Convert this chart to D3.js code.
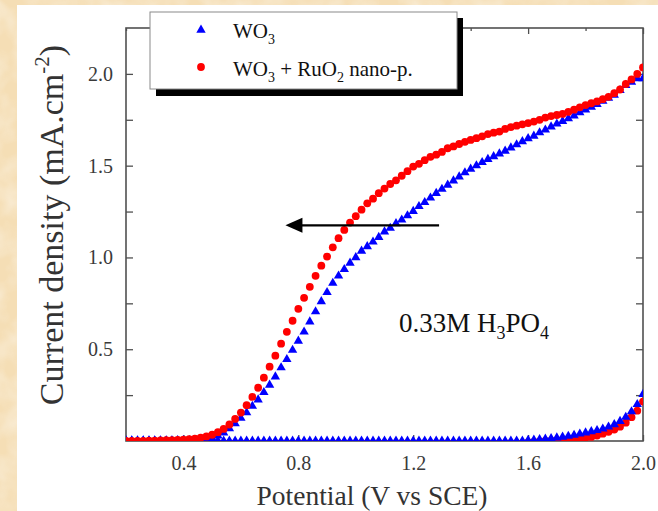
<!DOCTYPE html>
<html>
<head>
<meta charset="utf-8">
<script src="https://cdn.jsdelivr.net/npm/d3@7/dist/d3.min.js"></script>
<style>
  html, body { margin: 0; padding: 0; background: #fff; }
  svg { display: block; }
  text { font-family: "Liberation Serif", "Times New Roman", serif; }
</style>
</head>
<body>
<svg id="chart" width="658" height="511"></svg>
<script>
// Applied potential (V vs SCE), sampled every 20 mV
const potential = [
  0.20,0.22,0.24,0.26,0.28,0.30,0.32,0.34,0.36,0.38,
  0.40,0.42,0.44,0.46,0.48,0.50,0.52,0.54,0.56,0.58,
  0.60,0.62,0.64,0.66,0.68,0.70,0.72,0.74,0.76,0.78,
  0.80,0.82,0.84,0.86,0.88,0.90,0.92,0.94,0.96,0.98,
  1.00,1.02,1.04,1.06,1.08,1.10,1.12,1.14,1.16,1.18,
  1.20,1.22,1.24,1.26,1.28,1.30,1.32,1.34,1.36,1.38,
  1.40,1.42,1.44,1.46,1.48,1.50,1.52,1.54,1.56,1.58,
  1.60,1.62,1.64,1.66,1.68,1.70,1.72,1.74,1.76,1.78,
  1.80,1.82,1.84,1.86,1.88,1.90,1.92,1.94,1.96,1.98,
  2.00
];

// Photocurrent density under illumination (mA/cm2)
const wo3Light = [
  0.002,0.002,0.002,0.002,0.002,0.002,0.002,0.002,0.002,0.003,
  0.003,0.003,0.004,0.005,0.008,0.015,0.028,0.045,0.068,0.095,
  0.125,0.155,0.190,0.225,0.265,0.305,0.350,0.400,0.445,0.495,
  0.545,0.595,0.650,0.705,0.760,0.810,0.860,0.900,0.935,0.970,
  1.000,1.035,1.060,1.085,1.110,1.140,1.160,1.185,1.205,1.228,
  1.252,1.278,1.300,1.325,1.350,1.372,1.395,1.418,1.440,1.462,
  1.482,1.500,1.518,1.535,1.550,1.565,1.580,1.598,1.615,1.632,
  1.648,1.662,1.680,1.695,1.712,1.728,1.742,1.757,1.772,1.790,
  1.805,1.820,1.835,1.852,1.868,1.885,1.910,1.938,1.955,1.975,
  1.975
];
const ruo2Light = [
  0.000,0.000,0.001,0.001,0.002,0.002,0.003,0.004,0.005,0.006,
  0.008,0.010,0.013,0.018,0.025,0.034,0.048,0.066,0.090,0.120,
  0.155,0.195,0.240,0.290,0.345,0.405,0.465,0.530,0.595,0.655,
  0.720,0.780,0.840,0.900,0.955,1.005,1.055,1.105,1.150,1.190,
  1.225,1.260,1.295,1.320,1.350,1.375,1.400,1.420,1.445,1.470,
  1.495,1.510,1.530,1.548,1.560,1.575,1.595,1.605,1.618,1.630,
  1.640,1.650,1.660,1.672,1.680,1.686,1.700,1.710,1.718,1.725,
  1.732,1.740,1.750,1.762,1.770,1.776,1.782,1.793,1.805,1.818,
  1.830,1.840,1.850,1.862,1.875,1.895,1.915,1.945,1.970,2.000,
  2.035
];

// Dark current density (mA/cm2)
const wo3Dark = [
  0.001,0.001,0.001,0.001,0.001,0.001,0.001,0.001,0.001,0.001,
  0.001,0.001,0.001,0.001,0.001,0.001,0.001,0.001,0.001,0.001,
  0.001,0.001,0.001,0.001,0.001,0.001,0.001,0.001,0.001,0.001,
  0.001,0.001,0.001,0.001,0.001,0.001,0.001,0.001,0.001,0.001,
  0.001,0.001,0.001,0.001,0.001,0.001,0.001,0.001,0.001,0.001,
  0.001,0.001,0.001,0.001,0.001,0.001,0.001,0.001,0.001,0.001,
  0.001,0.001,0.001,0.001,0.001,0.001,0.001,0.001,0.001,0.001,
  0.004,0.006,0.008,0.011,0.014,0.018,0.022,0.027,0.032,0.039,
  0.045,0.052,0.058,0.066,0.077,0.090,0.108,0.130,0.160,0.200,
  0.255
];
const ruo2Dark = [
  -0.012,-0.012,-0.012,-0.012,-0.012,-0.012,-0.012,-0.012,-0.012,-0.012,
  -0.012,-0.012,-0.012,-0.012,-0.012,-0.012,-0.012,-0.012,-0.012,-0.012,
  -0.012,-0.012,-0.012,-0.012,-0.012,-0.012,-0.012,-0.012,-0.012,-0.012,
  -0.012,-0.012,-0.012,-0.012,-0.012,-0.012,-0.012,-0.012,-0.012,-0.012,
  -0.012,-0.012,-0.012,-0.012,-0.012,-0.012,-0.012,-0.012,-0.012,-0.012,
  -0.012,-0.012,-0.012,-0.012,-0.012,-0.012,-0.012,-0.012,-0.012,-0.012,
  -0.012,-0.012,-0.012,-0.012,-0.012,-0.012,-0.012,-0.012,-0.012,-0.012,
  -0.008,-0.005,-0.002,0.000,0.002,0.004,0.006,0.008,0.010,0.013,
  0.017,0.022,0.030,0.040,0.050,0.062,0.078,0.100,0.130,0.165,
  0.215
];

// Axis ticks
const xMajorTicks = [0.4, 0.8, 1.2, 1.6, 2.0];
const xMinorTicks = [0.2, 0.6, 1.0, 1.4, 1.8];
const yMajorTicks = [0.5, 1.0, 1.5, 2.0];
const yMinorTicks = [0.25, 0.75, 1.25, 1.75];

// Shift marker for the RuO2-modified electrode
const arrowFrom = { v: 1.29, j: 1.175 };
const arrowTo   = { v: 0.755, j: 1.175 };

const svg = d3.select("#chart");
const W = 658, H = 511;

// Parchment backdrop
const defs = svg.append("defs");
const paper = defs.append("filter").attr("id", "paper")
  .attr("x", 0).attr("y", 0).attr("width", "100%").attr("height", "100%");
paper.append("feTurbulence").attr("type", "fractalNoise")
  .attr("baseFrequency", "0.035").attr("numOctaves", 3).attr("seed", 7).attr("result", "noise");
paper.append("feColorMatrix").attr("in", "noise").attr("type", "matrix")
  .attr("values", "0 0 0 0 1  0 0 0 0 1  0 0 0 0 1  0 0 0 -1.4 0.9").attr("result", "spots");
paper.append("feComposite").attr("in", "spots").attr("in2", "SourceGraphic").attr("operator", "in");

svg.append("rect").attr("width", W).attr("height", H).attr("fill", "#f5deb5");
svg.append("rect").attr("width", W).attr("height", H).attr("fill", "#f5deb5")
  .attr("filter", "url(#paper)").attr("opacity", 0.55);
svg.append("rect").attr("x", 17).attr("y", 5).attr("width", W - 17).attr("height", H - 5).attr("fill", "#fff");

// Scales
const x = d3.scaleLinear().domain([0.2, 2.0]).range([126, 643]);
const y = d3.scaleLinear().domain([0, 2.25]).range([441, 28]);

defs.append("clipPath").attr("id", "plotClip").append("rect")
  .attr("x", x(0.2)).attr("y", y(2.25)).attr("width", x(2.0) - x(0.2)).attr("height", y(0) - y(2.25));

const axisColor = "#505050";
const labelColor = "#3a3a3a";

function styleAxis(g, fontSize) {
  g.select(".domain").remove();
  g.selectAll(".tick line").attr("stroke", axisColor).attr("stroke-width", 1.3);
  g.selectAll(".tick text").attr("fill", labelColor)
    .attr("font-family", "Liberation Serif, serif").attr("font-size", fontSize);
}

// Bottom axis
svg.append("g").attr("transform", `translate(0,${y(0)})`)
  .call(d3.axisBottom(x).tickValues(xMajorTicks).tickSize(-6).tickPadding(15).tickFormat(d3.format(".1f")))
  .call(g => styleAxis(g, 20));
svg.append("g").attr("transform", `translate(0,${y(0)})`)
  .call(d3.axisBottom(x).tickValues(xMinorTicks).tickSize(-3).tickFormat(""))
  .call(g => styleAxis(g, 20));
// Top axis
svg.append("g").attr("transform", `translate(0,${y(2.25)})`)
  .call(d3.axisTop(x).tickValues(xMajorTicks).tickSize(-6).tickFormat(""))
  .call(g => styleAxis(g, 20));
svg.append("g").attr("transform", `translate(0,${y(2.25)})`)
  .call(d3.axisTop(x).tickValues(xMinorTicks).tickSize(-3).tickFormat(""))
  .call(g => styleAxis(g, 20));
// Left axis
svg.append("g").attr("transform", `translate(${x(0.2)},0)`)
  .call(d3.axisLeft(y).tickValues(yMajorTicks).tickSize(-7).tickPadding(13).tickFormat(d3.format(".1f")))
  .call(g => styleAxis(g, 20));
svg.append("g").attr("transform", `translate(${x(0.2)},0)`)
  .call(d3.axisLeft(y).tickValues(yMinorTicks).tickSize(-7).tickFormat(""))
  .call(g => styleAxis(g, 20));
// Right axis
svg.append("g").attr("transform", `translate(${x(2.0)},0)`)
  .call(d3.axisRight(y).tickValues(yMajorTicks.concat(yMinorTicks)).tickSize(-7).tickFormat(""))
  .call(g => styleAxis(g, 20));

// Frame
svg.append("rect")
  .attr("x", x(0.2)).attr("y", y(2.25))
  .attr("width", x(2.0) - x(0.2)).attr("height", y(0) - y(2.25))
  .attr("fill", "none").attr("stroke", axisColor).attr("stroke-width", 1.6);

// Data markers
const plot = svg.append("g").attr("clip-path", "url(#plotClip)");
const tri = d3.symbol().type(d3.symbolTriangle).size(38);
const BLUE = "#0000ff", RED = "#ff0000";

function drawTriangles(values) {
  plot.append("g").selectAll("path").data(potential.map((v, i) => [v, values[i]])).join("path")
    .attr("d", tri)
    .attr("transform", d => `translate(${x(d[0])},${y(d[1])})`)
    .attr("fill", BLUE);
}
function drawCircles(values) {
  plot.append("g").selectAll("circle").data(potential.map((v, i) => [v, values[i]])).join("circle")
    .attr("cx", d => x(d[0])).attr("cy", d => y(d[1])).attr("r", 3.9)
    .attr("fill", RED);
}
drawCircles(ruo2Dark);
drawTriangles(wo3Dark);
drawTriangles(wo3Light);
drawCircles(ruo2Light);

// Arrow
svg.append("line")
  .attr("x1", x(arrowFrom.v)).attr("y1", y(arrowFrom.j))
  .attr("x2", x(arrowTo.v) + 14).attr("y2", y(arrowTo.j))
  .attr("stroke", "#000").attr("stroke-width", 2.2);
svg.append("path")
  .attr("d", d3.line()([[x(arrowTo.v), y(arrowTo.j)], [x(arrowTo.v) + 17, y(arrowTo.j) - 7.5], [x(arrowTo.v) + 17, y(arrowTo.j) + 7.5]]) + "Z")
  .attr("fill", "#000");

// Electrolyte label
const elec = svg.append("text").attr("x", 399).attr("y", 332)
  .attr("font-size", 27).attr("fill", "#111");
elec.append("tspan").text("0.33M H");
elec.append("tspan").attr("font-size", 18).attr("dy", 7).text("3");
elec.append("tspan").attr("dy", -7).text("PO");
elec.append("tspan").attr("font-size", 18).attr("dy", 7).text("4");

// Axis titles
svg.append("text")
  .attr("x", 372).attr("y", 505)
  .attr("text-anchor", "middle").attr("font-size", 27.5).attr("fill", "#333")
  .text("Potential (V vs SCE)");

const yt = svg.append("text")
  .attr("transform", `translate(63,225) rotate(-90)`)
  .attr("text-anchor", "middle").attr("font-size", 34).attr("fill", "#333");
yt.append("tspan").text("Current density (mA.cm");
yt.append("tspan").attr("font-size", 21).attr("dy", -14).text("-2");
yt.append("tspan").attr("dy", 14).text(")");

// Legend
const legend = svg.append("g");
legend.append("rect").attr("x", 156).attr("y", 18).attr("width", 307).attr("height", 78).attr("fill", "#000");
legend.append("rect").attr("x", 150).attr("y", 12).attr("width", 307).attr("height", 77)
  .attr("fill", "#fff").attr("stroke", "#8a8a8a").attr("stroke-width", 1);
legend.append("path").attr("d", tri).attr("transform", "translate(201,30)").attr("fill", BLUE);
legend.append("circle").attr("cx", 201).attr("cy", 67).attr("r", 3.9).attr("fill", RED);

const l1 = legend.append("text").attr("x", 233).attr("y", 38).attr("font-size", 21).attr("fill", "#111");
l1.append("tspan").text("WO");
l1.append("tspan").attr("font-size", 14).attr("dy", 6).text("3");

const l2 = legend.append("text").attr("x", 233).attr("y", 76).attr("font-size", 21).attr("fill", "#111");
l2.append("tspan").text("WO");
l2.append("tspan").attr("font-size", 14).attr("dy", 6).text("3");
l2.append("tspan").attr("dy", -6).text(" + RuO");
l2.append("tspan").attr("font-size", 14).attr("dy", 6).text("2");
l2.append("tspan").attr("dy", -6).text(" nano-p.");
</script>
</body>
</html>
